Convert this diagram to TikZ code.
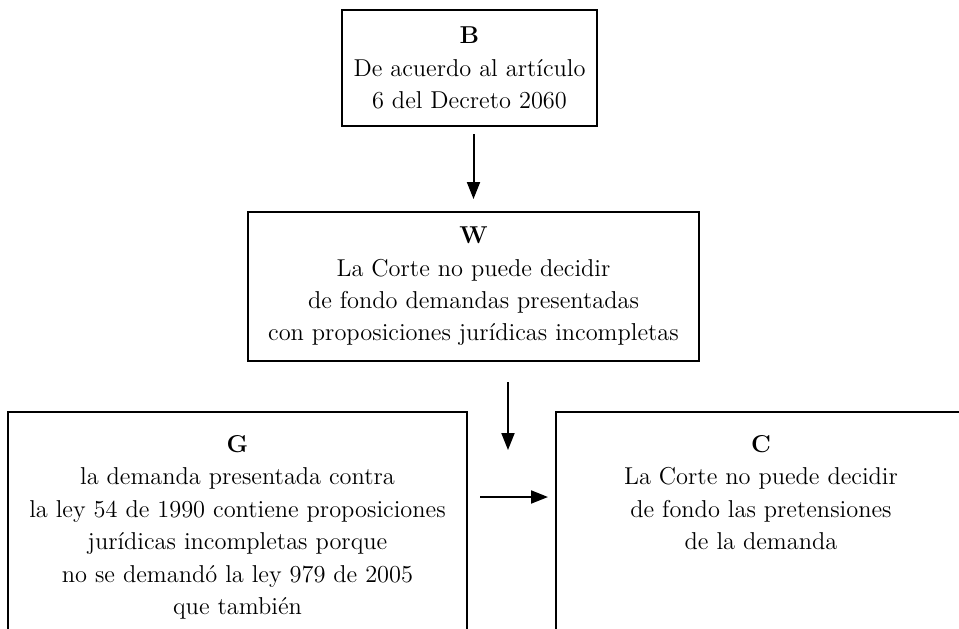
\documentclass[tikz,border=0pt]{standalone}
\usepackage{fontspec}
\usepackage{tikz}
\usetikzlibrary{arrows.meta,positioning}

\tikzset{
  box/.style={draw,line width=1pt,inner sep=0pt,align=center,font=\fontsize{12.2}{16.2}\selectfont},
  txt/.style={inner sep=0pt,align=center,font=\fontsize{12.2}{16.2}\selectfont},
  arr/.style={-{Triangle[length=8.5pt,width=6.5pt]},line width=1pt},
}

\begin{document}
\begin{tikzpicture}[x=0.5pt,y=0.5pt,yscale=-1,xscale=1]
\useasboundingbox (0,0) rectangle (959,628);
\clip (0,0) rectangle (959,628);
%Boxes
\node[box,minimum width=127.5pt,minimum height=58pt] (b) at (469.5,68) {\textbf{B}\\De acuerdo al artículo\\6 del Decreto 2060};
\node[box,minimum width=225.5pt,minimum height=74.5pt] (w) at (473.5,286.5) {\textbf{W}\\La Corte no puede decidir\\de fondo demandas presentadas\\con proposiciones jurídicas incompletas};
\node[box,minimum width=229.5pt,minimum height=124pt] (g) at (237.5,536) {};
\node[box,minimum width=205pt,minimum height=124pt] (c) at (761,536) {};
%Text
\node[txt,below=12pt of g.north] (gtext) {\textbf{G}\\la demanda presentada contra\\la ley 54 de 1990 contiene proposiciones\\jurídicas incompletas porque\\no se demandó la ley 979 de 2005\\que también};
\node[txt,below=12pt of c.north] (ctext) {\textbf{C}\\La Corte no puede decidir\\de fondo las pretensiones\\de la demanda};
%Arrows
\coordinate (jn) at (508,450);
\coordinate (lk) at (0,497);
\draw[arr,shorten <=3.5pt,shorten >=6pt] (b.south -| w.north) -- (w.north);
\draw[arr,shorten <=10pt] (w.south -| jn) -- (jn);
\draw[arr,shorten <=6pt,shorten >=3.5pt] (g.east |- lk) -- (c.west |- lk);
\end{tikzpicture}
\end{document}
